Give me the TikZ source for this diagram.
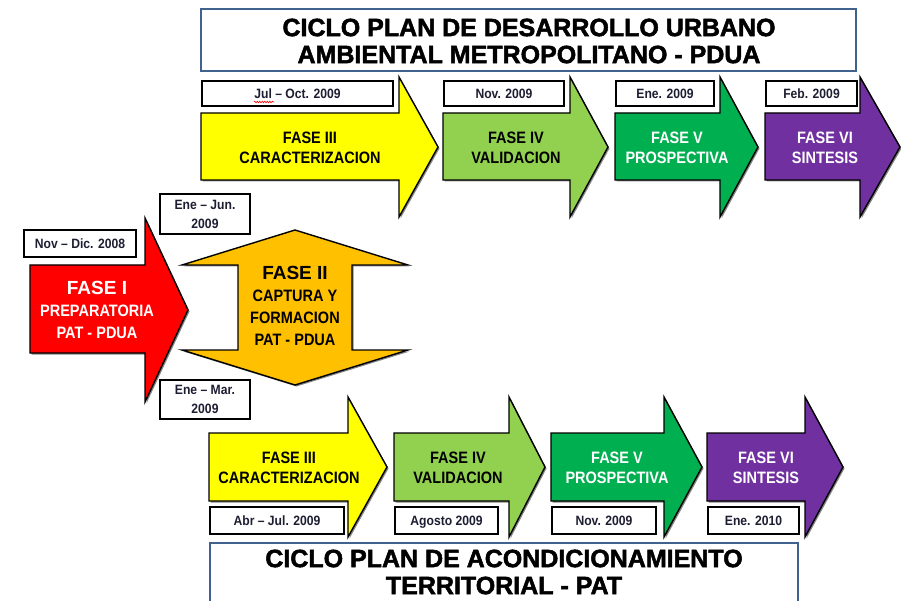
\documentclass[tikz,border=0pt]{standalone}
\usepackage{fontspec}
\setmainfont{Liberation Sans}
\newfontfamily\narb[FakeStretch=0.88]{Liberation Sans Bold}
\newfontfamily\datef[FakeStretch=0.9]{Liberation Sans Bold}
\newfontfamily\titf[FakeBold=2]{Liberation Sans Bold}
\newfontfamily\headf{Liberation Sans Bold}
\usetikzlibrary{shadows,decorations.pathmorphing}
\definecolor{cyellow}{HTML}{FFFF00}
\definecolor{clgreen}{HTML}{92D050}
\definecolor{cgreen}{HTML}{00B050}
\definecolor{cpurple}{HTML}{7030A0}
\definecolor{cred}{HTML}{FF0000}
\definecolor{corange}{HTML}{FFC000}
\definecolor{ctitle}{HTML}{41628F}
\definecolor{cdate}{RGB}{30,30,50}
\newcommand\hd[1]{{\headf\fontsize{19}{22}\selectfont #1}}
\tikzset{
  arrowshape/.style={draw=black, line width=1.4pt, line join=miter,
    drop shadow={shadow xshift=1.5pt, shadow yshift=-1.5pt, fill=black!60, opacity=0.8}},
  datebox/.style={draw=black, line width=2.4pt, fill=white, inner sep=0pt,
    align=center, text=cdate, font=\datef\fontsize{13.5}{19}\selectfont,
    drop shadow={shadow xshift=1.2pt, shadow yshift=-1.2pt, fill=black!50, opacity=0.7}},
  dateone/.style={datebox, text height=9.8pt, text depth=0pt},
  titlebox/.style={draw=ctitle, line width=2pt, fill=white, inner sep=0pt},
  titletext/.style={align=center, font=\titf\fontsize{25}{27}\selectfont, text=black},
  phasetext/.style={align=center, font=\narb\fontsize{16.5}{20}\selectfont},
  bigtext/.style={align=center, font=\narb\fontsize{16.5}{22}\selectfont},
}
\newcommand\phasearrow[8]{% color, x0, xh, xt, yT, yB, hT, hB
  \path[arrowshape, fill=#1] (#2,#5) -- (#3,#5) -- (#3,#7) -- (#4,{(#7+#8)/2})
    -- (#3,#8) -- (#3,#6) -- (#2,#6) -- cycle;}
\begin{document}
\begin{tikzpicture}[x=1pt,y=-1pt]
\useasboundingbox (0,0) rectangle (901,601);
\clip (0,0) rectangle (901,601);

% ---- top title
\node[titlebox, minimum width=655pt, minimum height=62pt] (ttop) at (528.5,40) {};
\node[titletext] (ttoptxt) at (529,41) {CICLO PLAN DE DESARROLLO URBANO\\AMBIENTAL METROPOLITANO - PDUA};

% ---- top row arrows
\phasearrow{cyellow}{201}{399}{438}{113}{180}{77}{217}
\phasearrow{clgreen}{443}{570}{608}{113}{180}{77}{217}
\phasearrow{cgreen}{615}{720}{758}{113}{180}{77}{217}
\phasearrow{cpurple}{765}{860}{900}{113}{180}{77}{217}

\node[phasetext, text=black] (p3t) at (310,147.5) {FASE III\\CARACTERIZACION};
\node[phasetext, text=black] (p4t) at (516,147.5) {FASE IV\\VALIDACION};
\node[phasetext, text=white] (p5t) at (677,147.5) {FASE V\\PROSPECTIVA};
\node[phasetext, text=white] (p6t) at (825,147.5) {FASE VI\\SINTESIS};

\node[dateone, minimum width=191pt, minimum height=25pt] (d3t) at (297.5,93.5) {Jul – Oct. 2009};
\draw[red, line width=0.6pt, decorate, decoration={snake, amplitude=0.8pt, segment length=2.5pt}] (254,102) -- (274,102);
\node[dateone, minimum width=120pt, minimum height=25pt] (d4t) at (504,93.5) {Nov. 2009};
\node[dateone, minimum width=98pt, minimum height=25pt] (d5t) at (665,93.5) {Ene. 2009};
\node[dateone, minimum width=91pt, minimum height=25pt] (d6t) at (811.5,93.5) {Feb. 2009};

% ---- FASE I
\phasearrow{cred}{30}{145}{188}{265}{353}{218}{402}
\node[bigtext, text=white] (p1) at (97,310) {\hd{FASE I}\\PREPARATORIA\\PAT - PDUA};
\node[dateone, minimum width=112pt, minimum height=27pt] (d1) at (80,243.5) {Nov – Dic. 2008};

% ---- FASE II
\path[arrowshape, fill=corange] (238,265) -- (182,265) -- (295,230) -- (408,265) -- (352,265)
  -- (352,350) -- (408,350) -- (295,385) -- (182,350) -- (238,350) -- cycle;
\node[bigtext, text=black] (p2) at (295,306) {\hd{FASE II}\\CAPTURA Y\\FORMACION\\PAT - PDUA};
\node[datebox, minimum width=90pt, minimum height=40pt] (d2a) at (205,214) {Ene – Jun.\\2009};
\node[datebox, minimum width=90pt, minimum height=39pt] (d2b) at (205,399.5) {Ene – Mar.\\2009};

% ---- bottom row arrows
\phasearrow{cyellow}{209}{348}{387}{433}{501}{397}{537}
\phasearrow{clgreen}{394}{509}{545}{433}{501}{397}{537}
\phasearrow{cgreen}{551}{664}{702}{433}{501}{397}{537}
\phasearrow{cpurple}{707}{805}{843}{433}{501}{397}{537}

\node[phasetext, text=black] (p3b) at (289,467.5) {FASE III\\CARACTERIZACION};
\node[phasetext, text=black] (p4b) at (458,467.5) {FASE IV\\VALIDACION};
\node[phasetext, text=white] (p5b) at (617,467.5) {FASE V\\PROSPECTIVA};
\node[phasetext, text=white] (p6b) at (766,467.5) {FASE VI\\SINTESIS};

\node[dateone, minimum width=134pt, minimum height=27pt] (d3b) at (277,520.5) {Abr – Jul. 2009};
\node[dateone, minimum width=103pt, minimum height=27pt] (d4b) at (446.5,520.5) {Agosto 2009};
\node[dateone, minimum width=104pt, minimum height=27pt] (d5b) at (604,520.5) {Nov. 2009};
\node[dateone, minimum width=91pt, minimum height=27pt] (d6b) at (753.5,520.5) {Ene. 2010};

% ---- bottom title
\node[titlebox, minimum width=588pt, minimum height=74pt, anchor=north] (tbot) at (504,542) {};
\node[titletext] (tbottxt) at (504,572) {CICLO PLAN DE ACONDICIONAMIENTO\\TERRITORIAL - PAT};
\end{tikzpicture}
\end{document}
